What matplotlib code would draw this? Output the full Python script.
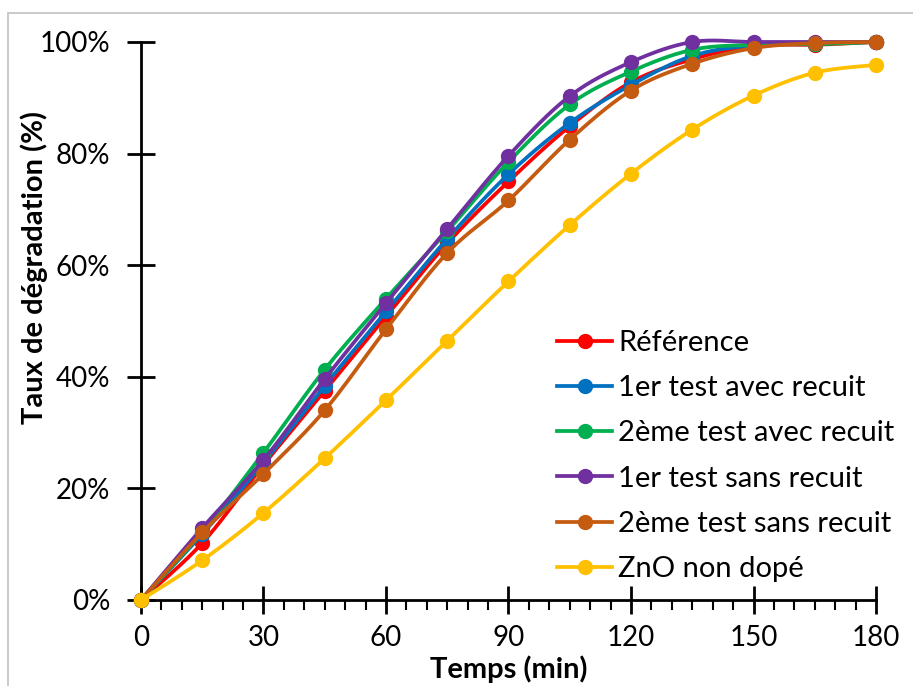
import numpy as np
import matplotlib
matplotlib.use("Agg")
import matplotlib.pyplot as plt
from matplotlib.ticker import MultipleLocator, PercentFormatter

plt.rcParams["font.family"] = ["Lato", "DejaVu Sans"]

temps = [0, 15, 30, 45, 60, 75, 90, 105, 120, 135, 150, 165, 180]

reference = [0, 10.2, 24.2, 37.5, 50.8, 63.9, 75.0, 84.9, 92.8, 96.9, 99.3, 99.5, 100]
test1_recuit = [0, 11.8, 24.6, 38.4, 51.7, 64.7, 76.3, 85.5, 92.3, 97.5, 99.4, 99.7, 100]
test2_recuit = [0, 12.2, 26.4, 41.3, 54.0, 66.1, 78.5, 88.8, 94.7, 98.6, 99.5, 99.6, 100]
test1_sans = [0, 12.9, 25.1, 39.6, 53.2, 66.5, 79.6, 90.3, 96.4, 100, 100, 100, 100]
test2_sans = [0, 12.1, 22.6, 34.0, 48.5, 62.2, 71.6, 82.5, 91.3, 96.1, 98.9, 99.8, 100]
zno = [0, 7.1, 15.6, 25.4, 35.8, 46.5, 57.1, 67.2, 76.4, 84.3, 90.4, 94.5, 95.9]

labels = ["Référence", "1er test avec recuit", "2ème test avec recuit",
          "1er test sans recuit", "2ème test sans recuit", "ZnO non dopé"]
series = [reference, test1_recuit, test2_recuit, test1_sans, test2_sans, zno]
colors = ["#FF0000", "#0070C0", "#00B050", "#7030A0", "#C55A11", "#FFC000"]


def smooth(x, y, n=20):
    # Excel-like smoothed line (Catmull-Rom Bezier segments)
    x = np.asarray(x, float)
    y = np.asarray(y, float)
    px, py = [], []
    for i in range(len(x) - 1):
        i0 = max(i - 1, 0)
        i3 = min(i + 2, len(x) - 1)
        c1x = x[i] + (x[i + 1] - x[i0]) / 6
        c1y = y[i] + (y[i + 1] - y[i0]) / 6
        c2x = x[i + 1] - (x[i3] - x[i]) / 6
        c2y = y[i + 1] - (y[i3] - y[i]) / 6
        t = np.linspace(0, 1, n)
        bx = (1 - t) ** 3 * x[i] + 3 * (1 - t) ** 2 * t * c1x + 3 * (1 - t) * t ** 2 * c2x + t ** 3 * x[i + 1]
        by = (1 - t) ** 3 * y[i] + 3 * (1 - t) ** 2 * t * c1y + 3 * (1 - t) * t ** 2 * c2y + t ** 3 * y[i + 1]
        px.extend(bx)
        py.extend(by)
    return np.array(px), np.array(py)


fig = plt.figure(figsize=(9.13, 6.86), dpi=100)
ax = fig.add_axes([0.1544, 0.1254, 0.8051, 0.8134])

for vals, lab, col in zip(series, labels, colors):
    sx, sy = smooth(temps, vals)
    ax.plot(sx, sy, color=col, lw=2.7, solid_capstyle="round", clip_on=False)
    ax.plot(temps, vals, ls="none", marker="o", ms=10, color=col, clip_on=False)
    ax.plot([], [], color=col, lw=2.7, marker="o", ms=10, label=lab)

ax.set_xlim(0, 180)
ax.set_ylim(0, 100)
ax.xaxis.set_major_locator(MultipleLocator(30))
ax.xaxis.set_minor_locator(MultipleLocator(5))
ax.yaxis.set_major_locator(MultipleLocator(20))
ax.yaxis.set_major_formatter(PercentFormatter(decimals=0))

for s in ["top", "right"]:
    ax.spines[s].set_visible(False)
for s in ["left", "bottom"]:
    ax.spines[s].set_linewidth(2)
    ax.spines[s].set_zorder(0)

ax.tick_params(axis="both", which="major", direction="inout", length=20, width=2,
               labelsize=20)
ax.tick_params(axis="x", which="minor", direction="out", length=7, width=1.5)
ax.tick_params(axis="x", which="major", pad=8)
ax.tick_params(axis="y", which="major", pad=12)

ax.set_xlabel("Temps (min)", fontsize=21, fontweight="bold", labelpad=3)
ax.set_ylabel("Taux de dégradation (%)", fontsize=21, fontweight="bold")
ax.yaxis.set_label_coords(-0.127, 0.595)

ax.legend(loc="center left", bbox_to_anchor=(0.566, 0.258), frameon=False,
          fontsize=21, handlelength=1.9, labelspacing=0.66, borderaxespad=0,
          borderpad=0, handletextpad=0.2)

border = plt.Rectangle((8 / 913, -0.1), 1.2, 1.1 - 13 / 686, transform=fig.transFigure,
                       fill=False, edgecolor="#c0c0c0", lw=1.2, clip_on=False)
fig.patches.append(border)

fig.savefig("out.png", dpi=100)
